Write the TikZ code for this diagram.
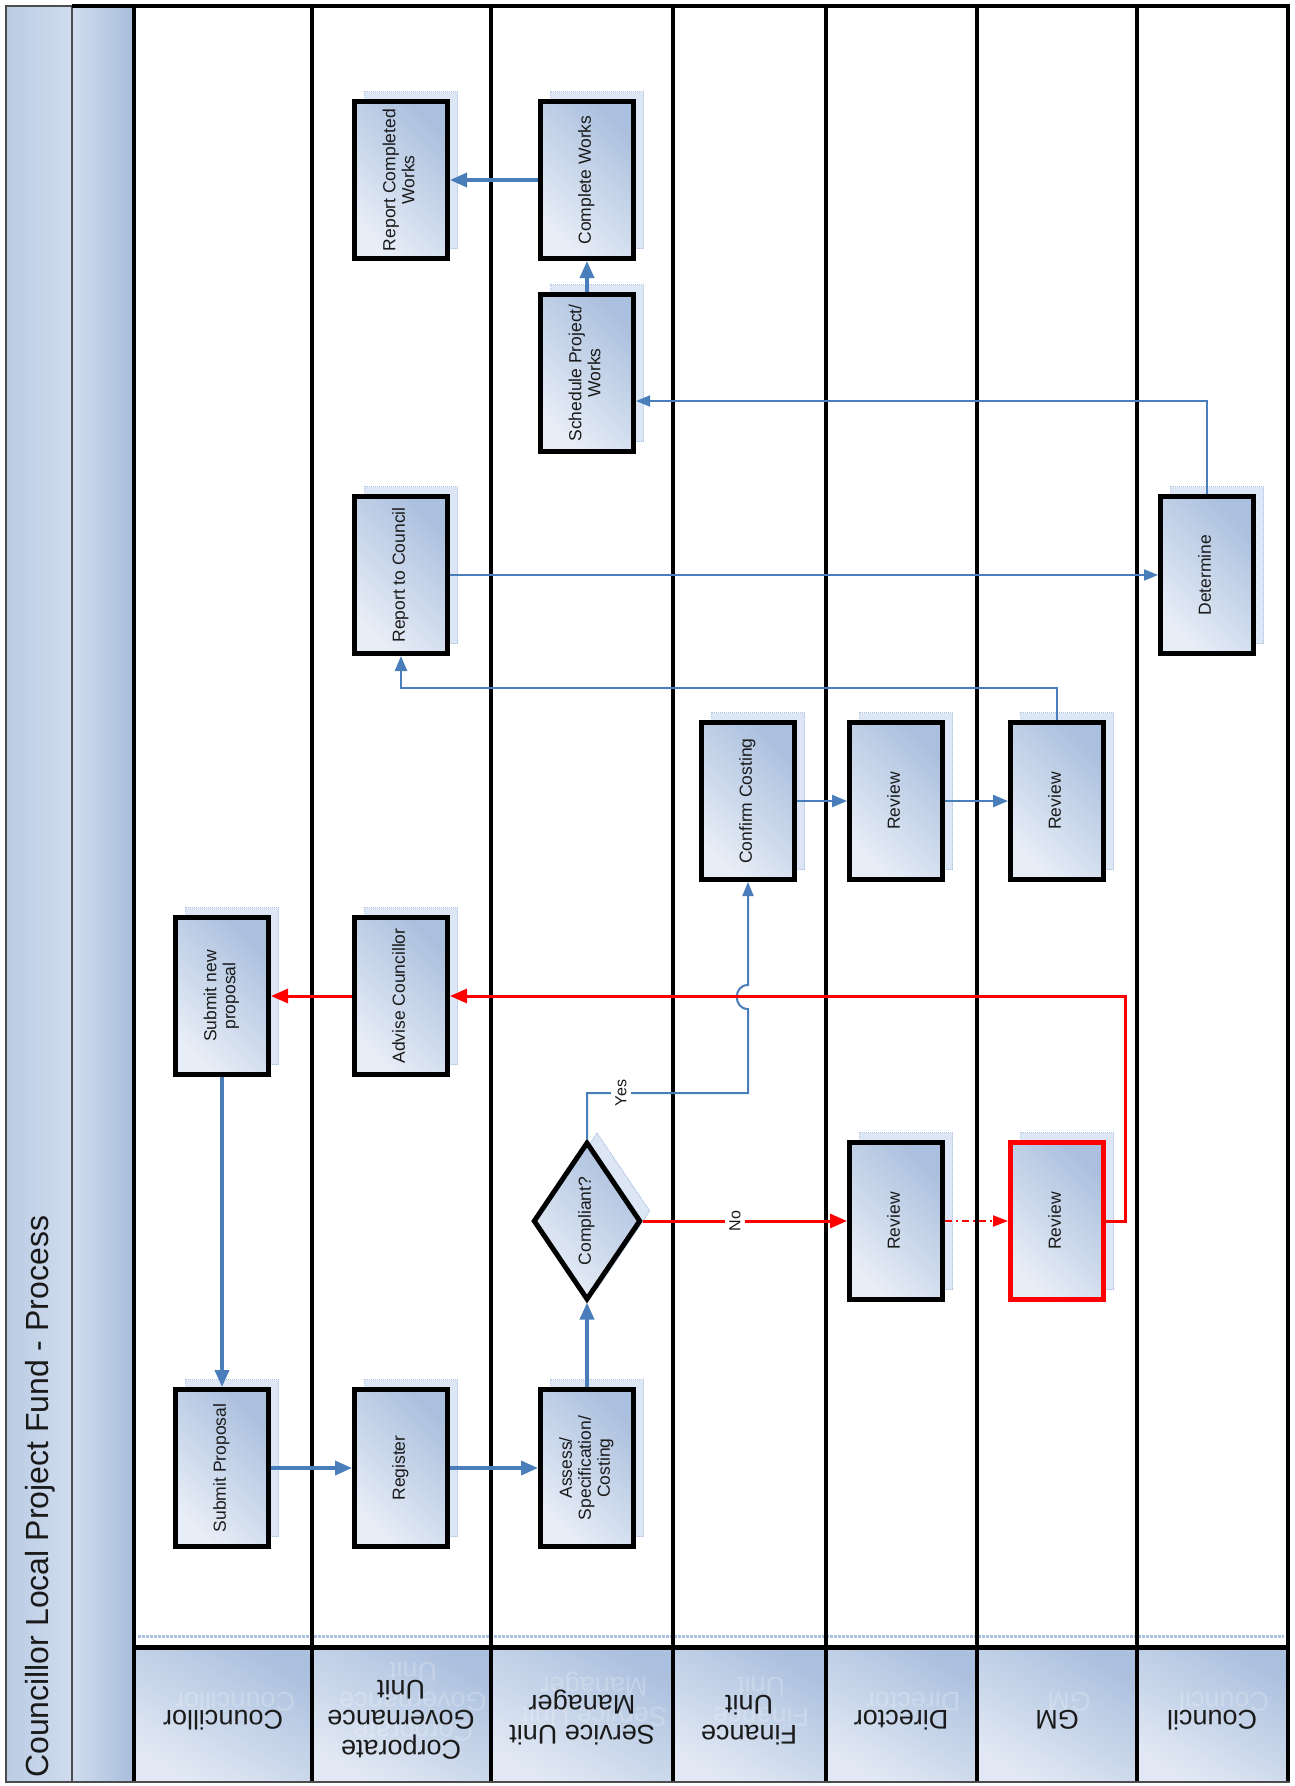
\documentclass[tikz,border=0pt]{standalone}
\usepackage{fontspec}
\setmainfont{Liberation Sans}
\usepackage{graphicx}
\usetikzlibrary{arrows.meta,shapes.geometric,calc}

\definecolor{lnblue}{HTML}{4A7EBB}
\definecolor{boxL}{HTML}{E8EEF7}
\definecolor{boxD}{HTML}{ABC0DE}
\definecolor{shF}{HTML}{DCE6F4}
\definecolor{shD}{HTML}{A9C0E2}
\definecolor{bandL}{HTML}{D0DCEE}
\definecolor{bandD}{HTML}{A8BEDC}
\definecolor{bandA}{HTML}{BACCE4}
\definecolor{hdrD}{HTML}{ABC0DE}
\definecolor{hdrL}{HTML}{E2E9F4}
\definecolor{txt}{HTML}{1A1A1A}

\newcommand{\myrot}[1]{\rotatebox{90}{\begin{tabular}{@{}c@{}}#1\end{tabular}}}
\newcommand{\myflip}[1]{\rotatebox{180}{\begin{tabular}{@{}c@{}}#1\end{tabular}}}

\tikzset{
  procbox/.style={draw=black, line width=5pt, minimum width=93pt, minimum height=157pt,
    inner sep=0pt, top color=boxD, bottom color=boxL, shading angle=-45, text=txt,
    font=\fontsize{17.5}{19}\selectfont,
    preaction={fill=shF, draw=shD, line width=1pt, densely dotted,
      transform canvas={xshift=10pt,yshift=10pt}}},
  decision/.style={shape=diamond, draw=black, line width=5pt, minimum width=95pt,
    minimum height=158pt, inner sep=0pt, top color=boxD, bottom color=boxL,
    shading angle=-45, text=txt, font=\fontsize{17.5}{19}\selectfont,
    preaction={fill=shF, draw=shD, line width=1pt, densely dotted,
      transform canvas={xshift=10pt,yshift=10pt}}},
  blarrow/.style={draw=lnblue, line width=3.5pt, -{Triangle[length=17pt,width=14pt]}},
  blmid/.style={draw=lnblue, line width=2.5pt, -{Triangle[length=15pt,width=12pt]}},
  blthin/.style={draw=lnblue, line width=2pt, -{Triangle[length=14pt,width=11pt]}},
  rdarrow/.style={draw=red, line width=3pt, -{Triangle[length=17pt,width=14pt]}},
  rddash/.style={draw=red, line width=2pt, dash pattern=on 7pt off 4pt on 2pt off 4pt,
    -{Triangle[length=15pt,width=11pt]}},
  lane/.style={draw=black, line width=4pt},
  hdr/.style={font=\fontsize{27}{30}\selectfont, text=txt, inner sep=0pt},
  ghost/.style={font=\fontsize{27}{30}\selectfont, text=white, opacity=0.22, inner sep=0pt},
  lbl/.style={fill=white, inner xsep=4pt, inner ysep=1pt, font=\fontsize{16}{18}\selectfont, text=txt}
}

\begin{document}
\begin{tikzpicture}[x=1pt,y=-1pt]
\useasboundingbox (0,0) rectangle (1295,1786);
\fill[white] (0,0) rectangle (1295,1786);

% title bands
\shade[left color=bandA, right color=bandL] (6,6) rectangle (72,1782);
\shade[left color=bandL, right color=bandD] (72,6) rectangle (134,1782);
\draw[gray!60!black, line width=1.2pt] (6,6) rectangle (72,1782);
\node[rotate=90, anchor=west, inner sep=0pt, font=\fontsize{32}{36}\selectfont, text=txt]
  (title) at (40,1778) {Councillor Local Project Fund - Process};

% header cells
\foreach \a/\b in {134/312,312/491,491/673,673/826,826/977,977/1137,1137/1288}{
  \shade[top color=hdrD, bottom color=hdrL, shading angle=-30] (\a,1647) rectangle (\b,1782);
}
\draw[shD, line width=3pt, densely dotted] (138,1636) -- (1284,1636);

% lanes
\foreach \x in {134,312,491,673,826,977,1137,1288}{
  \draw[lane] (\x,6) -- (\x,1782);
}
\draw[lane] (72,6) -- (1290,6);
\draw[draw=black, line width=5pt] (134,1647) -- (1288,1647);
\draw[gray!60!black, line width=1.2pt] (6,1782) -- (1290,1782);

% header labels (faint reflection + main)
\node[ghost] at (235,1698) {\myflip{Councillor}};
\node[hdr] (h1) at (223,1716) {\myflip{Councillor}};
\node[ghost] at (413,1698) {\myflip{Corporate\\Governance\\Unit}};
\node[hdr] (h2) at (401,1716) {\myflip{Corporate\\Governance\\Unit}};
\node[ghost] at (594,1698) {\myflip{Service Unit\\Manager}};
\node[hdr] (h3) at (582,1716) {\myflip{Service Unit\\Manager}};
\node[ghost] at (761,1698) {\myflip{Finance\\Unit}};
\node[hdr] (h4) at (749,1716) {\myflip{Finance\\Unit}};
\node[ghost] at (913,1698) {\myflip{Director}};
\node[hdr] (h5) at (901,1716) {\myflip{Director}};
\node[ghost] at (1069,1698) {\myflip{GM}};
\node[hdr] (h6) at (1057,1716) {\myflip{GM}};
\node[ghost] at (1224,1698) {\myflip{Council}};
\node[hdr] (h7) at (1212,1716) {\myflip{Council}};

% process boxes
\node[procbox] (rcw) at (401,180) {\myrot{Report Completed\\Works}};
\node[procbox] (cw)  at (587,180) {\myrot{Complete Works}};
\node[procbox] (sch) at (587,373) {\myrot{Schedule Project/\\Works}};
\node[procbox] (rtc) at (401,575) {\myrot{Report to Council}};
\node[procbox] (det) at (1207,575) {\myrot{Determine}};
\node[procbox] (cc)  at (748,801) {\myrot{Confirm Costing}};
\node[procbox] (rd1) at (896,801) {\myrot{Review}};
\node[procbox] (rg1) at (1057,801) {\myrot{Review}};
\node[procbox] (snp) at (222,996) {\myrot{Submit new\\proposal}};
\node[procbox] (adv) at (401,996) {\myrot{Advise Councillor}};
\node[decision] (dia) at (587,1221) {\myrot{Compliant?}};
\node[procbox] (rd2) at (896,1221) {\myrot{Review}};
\node[procbox, draw=red] (rg2) at (1057,1221) {\myrot{Review}};
\node[procbox] (sp)  at (222,1468) {\myrot{Submit Proposal}};
\node[procbox] (reg) at (401,1468) {\myrot{Register}};
\node[procbox] (ass) at (587,1468) {\myrot{Assess/\\Specification/\\Costing}};

% helper coordinates
\coordinate (yc) at (748,1093);
\coordinate (hA) at (748,1009);
\coordinate (hB) at (748,985);
\coordinate (hcA) at (733,1009);
\coordinate (hcB) at (733,985);
\coordinate (gr) at (1125,1221);
\coordinate (gu) at (1057,688);
\coordinate (du) at (1207,401);

% connectors
\draw[blarrow] (sp.east) -- (reg.west);
\draw[blarrow] (reg.east) -- (ass.west);
\draw[blarrow] (ass.north) -- (dia.south);
\draw[blarrow] (snp.south) -- (sp.north);
\draw[blthin] (dia.north) |- (yc) -- (hA) .. controls (hcA) and (hcB) .. (hB) -- (cc.south);
\draw[rdarrow] (dia.east) -- (rd2.west);
\draw[rddash] (rd2.east) -- (rg2.west);
\draw[rdarrow] (rg2.east) -- (gr) |- (adv.east);
\draw[rdarrow] (adv.west) -- (snp.east);
\draw[blmid] (cc.east) -- (rd1.west);
\draw[blmid] (rd1.east) -- (rg1.west);
\draw[blmid] (rg1.north) -- (gu) -| (rtc.south);
\draw[blthin] (rtc.east) -- (det.west);
\draw[blthin] (det.north) -- (du) -- (sch.east |- du);
\draw[blarrow] (sch.north) -- (cw.south);
\draw[blarrow] (cw.west) -- (rcw.east);

% labels
\node[lbl] (yes) at (621,1093) {\rotatebox{90}{Yes}};
\node[lbl] (no) at (735,1221) {\rotatebox{90}{No}};
\end{tikzpicture}
\end{document}
